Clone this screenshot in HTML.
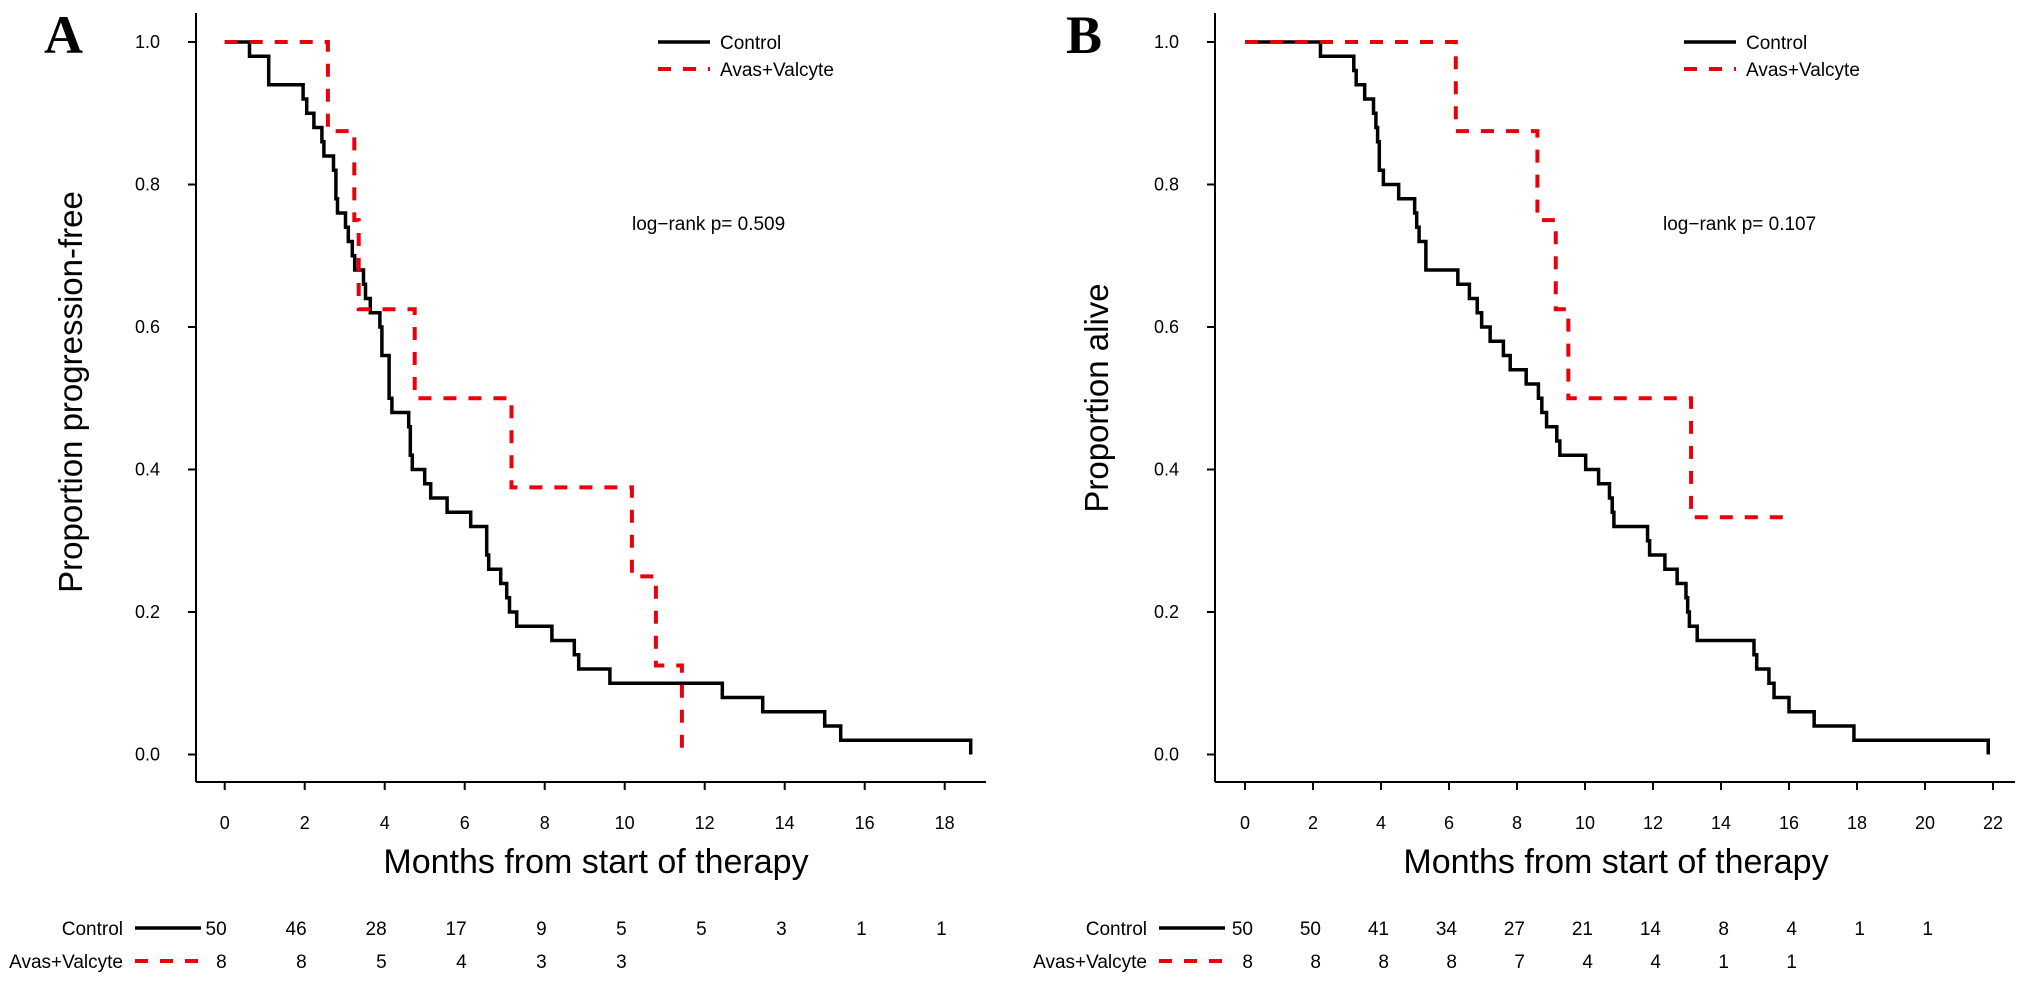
<!DOCTYPE html>
<html><head><meta charset="utf-8"><style>
html,body{margin:0;padding:0;background:#fff;}
svg{display:block;font-family:"Liberation Sans",Arial,sans-serif;}
</style></head><body>
<svg id="chart" width="2031" height="985" viewBox="0 0 2031 985" xmlns="http://www.w3.org/2000/svg">
<g id="panelA"></g>
<g id="panelB"></g>
</svg>
<script>
// Panel A data
const timesA_ctrl=[0.62,1.10,1.96,2.05,2.23,2.43,2.48,2.72,2.78,2.82,3.02,3.09,3.19,3.25,3.47,3.52,3.64,3.88,3.93,4.11,4.18,4.60,4.64,4.69,5.00,5.15,5.56,6.15,6.55,6.60,6.90,7.05,7.12,7.30,8.18,8.74,8.85,9.63,12.44,13.45,15.0,15.4,18.65];
const survA_ctrl=[0.98,0.94,0.92,0.90,0.88,0.86,0.84,0.82,0.78,0.76,0.74,0.72,0.70,0.68,0.66,0.64,0.62,0.60,0.56,0.50,0.48,0.46,0.42,0.40,0.38,0.36,0.34,0.32,0.28,0.26,0.24,0.22,0.20,0.18,0.16,0.14,0.12,0.10,0.08,0.06,0.04,0.02,0];
const timesA_trt=[2.58,3.24,3.35,4.75,7.17,10.18,10.78,11.43];
const survA_trt=[0.875,0.75,0.625,0.5,0.375,0.25,0.125,0];
const xTicksA=[0,2,4,6,8,10,12,14,16,18];
const riskA_ctrl=[50,46,28,17,9,5,5,3,1,1];
const riskA_trt=[8,8,5,4,3,3];
// Panel B data
const timesB_ctrl=[2.22,3.20,3.27,3.52,3.78,3.85,3.90,3.95,4.07,4.52,4.99,5.05,5.12,5.32,6.26,6.60,6.83,6.96,7.21,7.60,7.80,8.27,8.63,8.73,8.87,9.17,9.26,10.02,10.40,10.72,10.80,10.85,11.84,11.90,12.35,12.71,12.97,13.02,13.07,13.30,14.97,15.05,15.41,15.56,16.0,16.74,17.91,21.86];
const survB_ctrl=[0.98,0.96,0.94,0.92,0.90,0.88,0.86,0.82,0.80,0.78,0.76,0.74,0.72,0.68,0.66,0.64,0.62,0.60,0.58,0.56,0.54,0.52,0.50,0.48,0.46,0.44,0.42,0.40,0.38,0.36,0.34,0.32,0.30,0.28,0.26,0.24,0.22,0.20,0.18,0.16,0.14,0.12,0.10,0.08,0.06,0.04,0.02,0];
const timesB_trt=[6.2,8.6,9.14,9.51,13.12];
const survB_trt=[0.875,0.75,0.625,0.5,0.333];
const endB_trt=16.13;
const xTicksB=[0,2,4,6,8,10,12,14,16,18,20,22];
const riskB_ctrl=[50,50,41,34,27,21,14,8,4,1,1];
const riskB_trt=[8,8,8,8,7,4,4,1,1];
const yTicks=[0,0.2,0.4,0.6,0.8,1.0];

const NS="http://www.w3.org/2000/svg";
function mk(parent,tag,attrs,text){const e=document.createElementNS(NS,tag);for(const k in attrs)e.setAttribute(k,attrs[k]);if(text!==undefined)e.textContent=text;parent.appendChild(e);return e;}

function drawPanel(g,cfg){
  const X=t=>cfg.x0+t*cfg.pxm;
  const Y=v=>754.5-v*712.5;
  const ya=mk(g,'line',{x1:cfg.ax,y1:13,x2:cfg.ax,y2:782,stroke:'#000','stroke-width':2});
  
  
  const xa=mk(g,'line',{x1:cfg.ax,y1:782,x2:cfg.axEnd,y2:782,stroke:'#000','stroke-width':2});
  
  
  yTicks.forEach(v=>{
    mk(g,'line',{x1:cfg.ax-8,y1:Y(v),x2:cfg.ax,y2:Y(v),stroke:'#000','stroke-width':2});
    const t=mk(g,'text',{x:cfg.ax-36,y:Y(v)+6,'text-anchor':'end','font-size':18},v.toFixed(1));
    
    
  });
  cfg.xt.forEach(v=>{
    mk(g,'line',{x1:X(v),y1:782,x2:X(v),y2:790,stroke:'#000','stroke-width':2});
    const t=mk(g,'text',{x:X(v),y:829,'text-anchor':'middle','font-size':18},String(v));
    
    
  });
  function stepPath(ts,vs,end){
    let d='M'+X(0)+','+Y(1);
    ts.forEach((t,i)=>{d+=' H'+X(t)+' V'+Y(vs[i]);});
    if(end!==undefined)d+=' H'+X(end);
    return d;
  }
  const c1=mk(g,'path',{d:stepPath(cfg.tc,cfg.sc),fill:'none',stroke:'#000','stroke-width':3.5});
  
  
  const c2=mk(g,'path',{d:stepPath(cfg.tt,cfg.st,cfg.endT),fill:'none',stroke:'#e8000b','stroke-width':4,'stroke-dasharray':'13 12'});
  
  
  const l1=mk(g,'line',{x1:cfg.legX,y1:42,x2:cfg.legX+52,y2:42,stroke:'#000','stroke-width':3.5});
  
  
  const lt1=mk(g,'text',{x:cfg.legX+62,y:49,'font-size':19},'Control');
  
  
  const l2=mk(g,'line',{x1:cfg.legX,y1:69,x2:cfg.legX+52,y2:69,stroke:'#e8000b','stroke-width':4,'stroke-dasharray':'13 12'});
  
  
  const lt2=mk(g,'text',{x:cfg.legX+62,y:76,'font-size':19},'Avas+Valcyte');
  
  
  const p=mk(g,'text',{x:cfg.pX,y:230,'font-size':19},cfg.pText);
  
  
  const yt=mk(g,'text',{x:cfg.ytX,y:cfg.ytY,'text-anchor':'middle','font-size':33,transform:'rotate(-90 '+cfg.ytX+' '+cfg.ytY+')'},cfg.yTitle);
  
  
  const xtT=mk(g,'text',{x:cfg.xtX,y:873,'text-anchor':'middle','font-size':34},'Months from start of therapy');
  
  
  const pl=mk(g,'text',{x:cfg.lblX,y:53,'font-size':54,'font-weight':'bold','font-family':'Liberation Serif, serif'},cfg.lbl);
  
  
  const r1=mk(g,'text',{x:cfg.rtX,y:935,'text-anchor':'end','font-size':19},'Control');
  
  
  mk(g,'line',{x1:cfg.rtX+12,y1:928,x2:cfg.rtX+78,y2:928,stroke:'#000','stroke-width':3.5});
  const r2=mk(g,'text',{x:cfg.rtX,y:968,'text-anchor':'end','font-size':19},'Avas+Valcyte');
  
  
  mk(g,'line',{x1:cfg.rtX+12,y1:961,x2:cfg.rtX+78,y2:961,stroke:'#e8000b','stroke-width':4,'stroke-dasharray':'13 12'});
  cfg.rc.forEach((n,i)=>{
    const t=mk(g,'text',{x:X(cfg.xt[i])+cfg.rOff,y:935,'text-anchor':'end','font-size':19},String(n));
    
    
  });
  cfg.rt.forEach((n,i)=>{
    const t=mk(g,'text',{x:X(cfg.xt[i])+cfg.rOff,y:968,'text-anchor':'end','font-size':19},String(n));
    
    
  });
}

drawPanel(document.getElementById('panelA'),{x0:224.7,pxm:40,ax:196,axEnd:986,xt:xTicksA,
  tc:timesA_ctrl,sc:survA_ctrl,tt:timesA_trt,st:survA_trt,legX:658,pX:632,pText:'log\u2212rank p= 0.509',
  ytX:82,ytY:392,yTitle:'Proportion progression-free',xtX:596,lbl:'A',lblX:44,rtX:123,rc:riskA_ctrl,rt:riskA_trt,rOff:2});
drawPanel(document.getElementById('panelB'),{x0:1245,pxm:34,ax:1215,axEnd:2015,xt:xTicksB,
  tc:timesB_ctrl,sc:survB_ctrl,tt:timesB_trt,st:survB_trt,endT:endB_trt,legX:1684,pX:1663,pText:'log\u2212rank p= 0.107',
  ytX:1108,ytY:398,yTitle:'Proportion alive',xtX:1616,lbl:'B',lblX:1066,rtX:1147,rc:riskB_ctrl,rt:riskB_trt,rOff:8});
</script>
</body></html>
